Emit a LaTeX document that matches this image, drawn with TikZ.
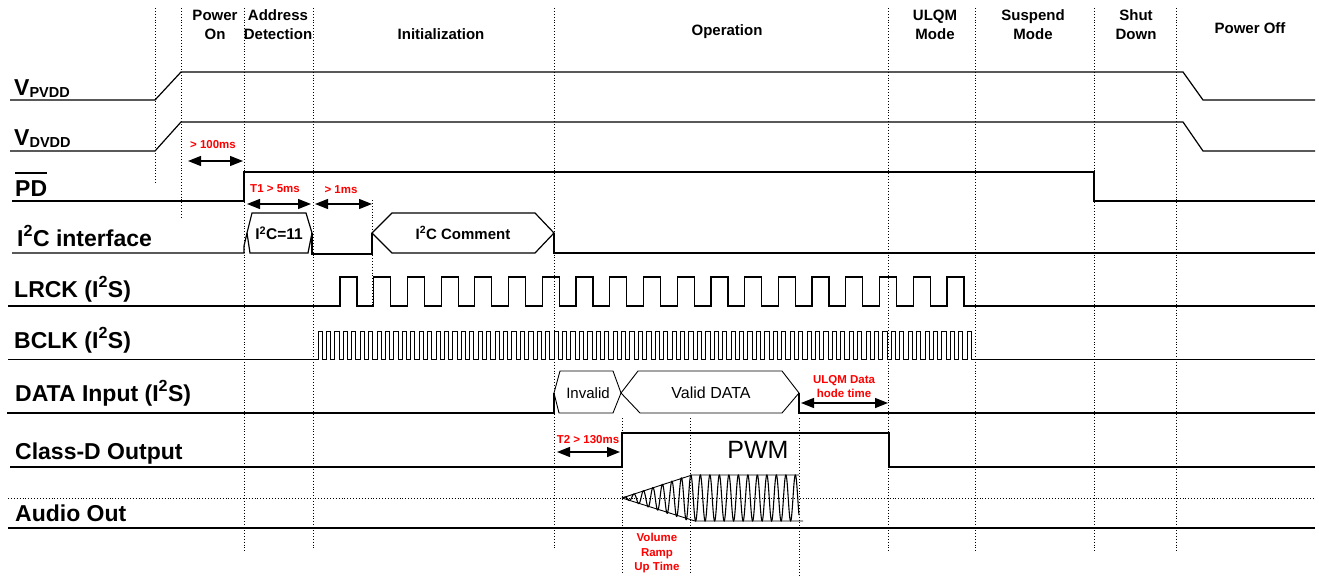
\documentclass[tikz,border=0pt]{standalone}
\usepackage{fontspec}
\setmainfont{Liberation Sans}
\usetikzlibrary{arrows.meta}
\begin{document}
\begin{tikzpicture}[x=1pt,y=-1pt,
  sig/.style={line width=1.2pt, line join=miter},
  thin sig/.style={line width=0.9pt, line join=miter},
  guide/.style={line width=0.9pt, dotted},
  dim/.style={line width=1.4pt, {Triangle[length=13pt,width=10pt]}-{Triangle[length=13pt,width=10pt]}},
  hdr/.style={font=\fontsize{15}{19}\selectfont\bfseries, align=center, inner sep=0},
  lbl/.style={font=\fontsize{23}{24}\selectfont\bfseries, anchor=base west, inner sep=0},
  note/.style={text=red, font=\fontsize{11.5}{14.5}\selectfont\bfseries, align=center, inner sep=0},
  busText/.style={font=\fontsize{15}{16}\selectfont, inner sep=0}
]
\useasboundingbox (0,0) rectangle (1319,578);

% ---- phase headers ----
\node[hdr] (hPower) at (215,25) {Power\\On};
\node[hdr] (hAddr) at (278,25) {Address\\Detection};
\node[hdr] (hInit) at (441,34) {Initialization};
\node[hdr] (hOp) at (727,32) {Operation};
\node[hdr] (hUlqm) at (935,25) {ULQM\\Mode};
\node[hdr] (hSusp) at (1033,25) {Suspend\\Mode};
\node[hdr] (hShut) at (1136,25) {Shut\\Down};
\node[hdr] (hOff) at (1250,28) {Power Off};

% ---- guide lines ----
\draw[guide] (155,8) -- (155,183);
\draw[guide] (181,8) -- (181,218);
\draw[guide] (244,8) -- (244,552);
\draw[guide] (313,8) -- (313,548);
\draw[guide] (372,200) -- (372,307);
\draw[guide] (554,8) -- (554,550);
\draw[guide] (622,418) -- (622,573);
\draw[guide] (690,418) -- (690,573);
\draw[guide] (799,418) -- (799,576);
\draw[guide] (888,8) -- (888,552);
\draw[guide] (975,8) -- (975,552);
\draw[guide] (1094,8) -- (1094,552);
\draw[guide] (1176,8) -- (1176,552);

% ---- signal labels ----
\node[lbl] (lPvdd) at (14,95) {V\raisebox{-2pt}{\fontsize{14.5}{15}\selectfont PVDD}};
\node[lbl] (lDvdd) at (14,145) {V\raisebox{-2pt}{\fontsize{14.5}{15}\selectfont DVDD}};
\node[lbl] (lPd) at (15,196) {PD};
\draw[line width=2.2pt] (15,173) -- (47,173);
\node[lbl] (lI2c) at (17,246) {I\textsuperscript{2}C interface};
\node[lbl] (lLrck) at (14,297) {LRCK (I\textsuperscript{2}S)};
\node[lbl] (lBclk) at (14,348) {BCLK (I\textsuperscript{2}S)};
\node[lbl] (lData) at (15,401) {DATA Input (I\textsuperscript{2}S)};
\node[lbl] (lClass) at (15,459) {Class-D Output};
\node[lbl] (lAudio) at (15,521) {Audio Out};

% ---- supplies ----
\draw[sig] (10,100) -- (155,100) -- (181,72) -- (1183,72) -- (1203,100) -- (1315,100);
\draw[sig] (10,151) -- (155,151) -- (181,122) -- (1183,122) -- (1203,151) -- (1315,151);

% ---- PD ----
\draw[sig] (12,201) -- (244,201) -- (244,172) -- (1094,172) -- (1094,201) -- (1315,201);

% ---- I2C ----
\draw[sig] (12,253) -- (244,253) -- (244,246) -- (247,233);
\draw[sig] (247,233) -- (252,213) -- (306,213) -- (312,233) -- (308,253) -- (250,253) -- cycle;
\node[busText, font=\fontsize{15.5}{16}\selectfont\bfseries] (tI2c11) at (279,233) {I\textsuperscript{2}C=11};
\draw[sig] (312,233) -- (312,254) -- (372,254) -- (372,233);
\draw[sig] (372,233) -- (392,213) -- (535,213) -- (554,233) -- (535,253) -- (392,253) -- cycle;
\node[busText, font=\fontsize{15}{16}\selectfont\bfseries] (tI2cCom) at (463,233) {I\textsuperscript{2}C Comment};
\draw[sig] (554,233) -- (554,253) -- (1315,253);

% ---- LRCK ----
\draw[sig] (8,306) \foreach \k in {0,...,18} { -- ({340+33.72*\k},306) -- ({340+33.72*\k},277) -- ({357+33.72*\k},277) -- ({357+33.72*\k},306) } -- (1315,306);

% ---- BCLK ----
\draw[thin sig] (8,359) \foreach \k in {0,...,77} { -- ({318+8.43*\k},359) -- ({318+8.43*\k},331) -- ({322.2+8.43*\k},331) -- ({322.2+8.43*\k},359) } -- (1315,359);

% ---- DATA ----
\draw[sig] (7,413) -- (554,413) -- (554,393);
\draw[thin sig] (554,393) -- (560,371) -- (613,371) -- (621,393) -- (613,413) -- (559,413) -- cycle;
\node[busText] (tInv) at (588,393) {Invalid};
\draw[thin sig] (621,393) -- (638,371) -- (782,371) -- (799,393) -- (782,413) -- (640,413) -- cycle;
\node[busText, font=\fontsize{16}{17}\selectfont] (tValid) at (711,393) {Valid DATA};
\draw[sig] (799,393) -- (799,413) -- (1315,413);

% ---- Class-D ----
\draw[sig] (10,467) -- (622,467) -- (622,433) -- (889,433) -- (889,467) -- (1315,467);
\node[busText, font=\fontsize{25}{26}\selectfont] (tPwm) at (758,450) {PWM};

% ---- Audio ----
\draw[guide] (8,498) -- (1315,498);
\draw[sig] (8,528) -- (1315,528);
\draw[thin sig] (622,498) -- (692,475) -- (799,475);
\draw[thin sig] (622,498) -- (695,521) -- (803,521);
\draw[line width=1.1pt] plot[domain=0:177, samples=900] ({622+\x}, {498 - 23*min(1,\x/68)*sin(37.9*\x)});

% ---- timing annotations ----
\coordinate (d1a) at (188,161); \coordinate (d1b) at (243,161);
\draw[dim] (d1a) -- (d1b);
\node[note] (n100) at (213,145) {> 100ms};
\coordinate (d2a) at (247,204); \coordinate (d2b) at (311,204);
\draw[dim] (d2a) -- (d2b);
\node[note] (nT1) at (275,189) {T1 > 5ms};
\coordinate (d3a) at (315,204); \coordinate (d3b) at (372,204);
\draw[dim] (d3a) -- (d3b);
\node[note] (n1ms) at (341,190) {> 1ms};
\coordinate (d4a) at (801,403); \coordinate (d4b) at (888,403);
\draw[dim] (d4a) -- (d4b);
\node[note] (nUlqm) at (844,386.5) {ULQM Data\\hode time};
\coordinate (d5a) at (557,452); \coordinate (d5b) at (620,452);
\draw[dim] (d5a) -- (d5b);
\node[note] (nT2) at (588,440) {T2 > 130ms};
\node[note] (nVol) at (657,553.5) {Volume\\Ramp\\Up Time};
\end{tikzpicture}
\end{document}
